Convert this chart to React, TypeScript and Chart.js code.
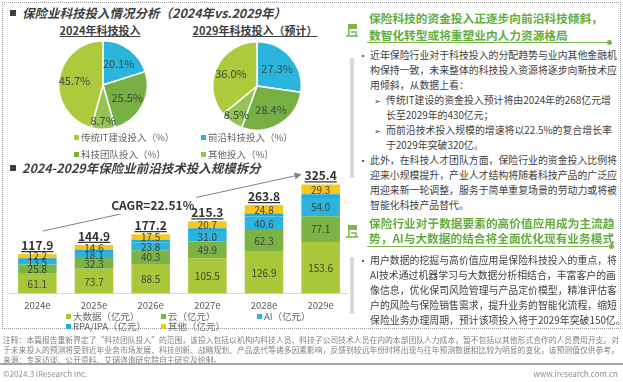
import React, { useEffect, useRef } from "react";
import { Chart, registerables } from "chart.js";
Chart.register(...registerables);

const FONT = '"Noto Sans CJK SC", "Noto Sans", sans-serif';

// ---- Pie data ----
const pieCategories = ["前沿科技投入", "科技团队投入", "其他投入", "传统IT建设投入"];
const pie2024 = [20.1, 25.5, 8.7, 45.7];
const pie2029 = [27.3, 28.4, 8.5, 36.0];
const pieColors = ["#2bb5dc", "#76b043", "#94c453", "#adc93c"];
const pieLabelFrac = [0.6, 0.62, 0.8, 0.65];

// ---- Bar data ----
const years = ["2024e", "2025e", "2026e", "2027e", "2028e", "2029e"];
const bigData = [61.1, 73.7, 88.5, 105.5, 126.9, 153.6];
const cloud = [25.8, 32.3, 40.3, 49.9, 62.3, 77.1];
const ai = [13.5, 18.1, 23.8, 31.0, 40.6, 54.0];
const rpa = [5.3, 6.2, 7.1, 8.2, 9.2, 11.4];
const other = [12.2, 14.6, 17.5, 20.7, 24.8, 29.3];
const totals = [117.9, 144.9, 177.2, 215.3, 263.8, 325.4];
const barNames = ["大数据（亿元）", "云（亿元）", "AI（亿元）", "RPA/IPA（亿元）", "其他（亿元）"];
const barColors = ["#a8c83a", "#7cb346", "#2bb5dc", "#22abdf", "#f4c81c"];
const cagrText = "CAGR=22.51%";

const pieLabelPlugin = {
  id: "pieLabels",
  afterDatasetsDraw(chart: any) {
    const ctx = chart.ctx;
    const meta = chart.getDatasetMeta(0);
    const data = chart.data.datasets[0].data;
    ctx.save();
    ctx.font = `11px ${FONT}`;
    ctx.fillStyle = "#3b4848";
    ctx.textAlign = "center";
    ctx.textBaseline = "middle";
    meta.data.forEach((arc: any, i: number) => {
      const p = arc.getProps(["x", "y", "startAngle", "endAngle", "outerRadius"], true);
      const a = (p.startAngle + p.endAngle) / 2;
      const r = p.outerRadius * pieLabelFrac[i];
      ctx.fillText(`${Number(data[i]).toFixed(1)}%`, p.x + Math.cos(a) * r, p.y + Math.sin(a) * r);
    });
    ctx.restore();
  },
};

const barLabelPlugin = {
  id: "barLabels",
  afterDatasetsDraw(chart: any) {
    const ctx = chart.ctx;
    ctx.save();
    ctx.textAlign = "center";
    ctx.textBaseline = "middle";
    ctx.font = `10px ${FONT}`;
    ctx.fillStyle = "#404040";
    chart.data.datasets.forEach((ds: any, di: number) => {
      if (di === 3) return;
      const meta = chart.getDatasetMeta(di);
      meta.data.forEach((bar: any, i: number) => {
        const p = bar.getProps(["x", "y", "base"], true);
        ctx.fillText(Number(ds.data[i]).toFixed(1), p.x, (p.y + p.base) / 2 + 0.5);
      });
    });
    const topMeta = chart.getDatasetMeta(chart.data.datasets.length - 1);
    // CAGR arrow
    const b0 = topMeta.data[0].getProps(["x", "y"], true);
    const b5 = topMeta.data[topMeta.data.length - 1].getProps(["x", "y"], true);
    const x1 = b0.x + 5.5, y1 = b0.y - 23;
    const x2 = b5.x - 19, y2 = b5.y - 10;
    ctx.strokeStyle = "#808080";
    ctx.fillStyle = "#808080";
    ctx.lineWidth = 1;
    ctx.beginPath();
    ctx.moveTo(x1, y1);
    ctx.lineTo(x2 - 5, y2 + (y1 - y2) * (5 / (x2 - x1)));
    ctx.stroke();
    const ang = Math.atan2(y2 - y1, x2 - x1);
    ctx.beginPath();
    ctx.moveTo(x2, y2);
    ctx.lineTo(x2 - 7 * Math.cos(ang) + 3.5 * Math.sin(ang), y2 - 7 * Math.sin(ang) - 3.5 * Math.cos(ang));
    ctx.lineTo(x2 - 7 * Math.cos(ang) - 3.5 * Math.sin(ang), y2 - 7 * Math.sin(ang) + 3.5 * Math.cos(ang));
    ctx.closePath();
    ctx.fill();
    const tx = chart.scales.x.getPixelForValue(2) + 2;
    const ty = y1 + (y2 - y1) * ((tx - x1) / (x2 - x1)) - 2;
    ctx.font = `bold 12px ${FONT}`;
    const tw = ctx.measureText(cagrText).width;
    ctx.fillStyle = "#ffffff";
    ctx.fillRect(tx - tw / 2 - 2, ty - 9, tw + 4, 18);
    ctx.fillStyle = "#333333";
    ctx.fillText(cagrText, tx, ty);
    // totals
    ctx.font = `bold 12px ${FONT}`;
    ctx.fillStyle = "#333333";
    ctx.strokeStyle = "#333333";
    ctx.lineWidth = 1.2;
    topMeta.data.forEach((bar: any, i: number) => {
      const p = bar.getProps(["x", "y"], true);
      const t = totals[i].toFixed(1);
      ctx.fillText(t, p.x, p.y - 9);
      const w = ctx.measureText(t).width;
      ctx.beginPath();
      ctx.moveTo(p.x - w / 2, p.y - 2.5);
      ctx.lineTo(p.x + w / 2, p.y - 2.5);
      ctx.stroke();
    });
    ctx.restore();
  },
};

function PieChart({ values, left, top, size }: { values: number[]; left: number; top: number; size: number }) {
  const ref = useRef<HTMLCanvasElement>(null);
  useEffect(() => {
    const chart = new Chart(ref.current!, {
      type: "pie",
      data: {
        labels: pieCategories,
        datasets: [{ data: values, backgroundColor: pieColors, borderColor: "#ffffff", borderWidth: 1.5 }],
      },
      options: {
        responsive: false,
        animation: false,
        events: [],
        layout: { padding: 0 },
        plugins: { legend: { display: false }, tooltip: { enabled: false } },
      },
      plugins: [pieLabelPlugin],
    } as any);
    return () => chart.destroy();
  }, []);
  return (
    <canvas ref={ref} width={size} height={size} style={{ position: "absolute", left, top, width: size, height: size }} />
  );
}

function BarChart() {
  const ref = useRef<HTMLCanvasElement>(null);
  useEffect(() => {
    const series = [bigData, cloud, ai, rpa, other];
    const chart = new Chart(ref.current!, {
      type: "bar",
      data: {
        labels: years,
        datasets: series.map((d, i) => ({
          label: barNames[i],
          data: d,
          backgroundColor: barColors[i],
          borderWidth: 0,
          barPercentage: 0.68,
          categoryPercentage: 1.0,
        })),
      },
      options: {
        responsive: false,
        animation: false,
        events: [],
        layout: { padding: 0 },
        plugins: { legend: { display: false }, tooltip: { enabled: false } },
        scales: {
          x: {
            stacked: true,
            grid: { display: false, drawTicks: false },
            border: { display: true, color: "#d9d9d9" },
            ticks: { color: "#595959", font: { size: 9.5, family: FONT }, padding: 6 },
          },
          y: { stacked: true, display: false, min: 0, max: 410 },
        },
      },
      plugins: [barLabelPlugin],
    } as any);
    return () => chart.destroy();
  }, []);
  return <canvas ref={ref} width={340} height={161} style={{ position: "absolute", left: 9, top: 156, width: 340, height: 161 }} />;
}

const txt = (extra: any) => ({ position: "absolute" as const, whiteSpace: "nowrap" as const, ...extra });

const block1: { t: string; bullet?: string; sub?: boolean }[] = [
  { t: "近年保险行业对于科技投入的分配趋势与业内其他金融机", bullet: "•" },
  { t: "构保持一致，未来整体的科技投入资源将逐步向新技术应" },
  { t: "用倾斜，从数据上看：" },
  { t: "传统IT建设的资金投入预计将由2024年的268亿元增", bullet: "➢", sub: true },
  { t: "长至2029年的430亿元；", sub: true },
  { t: "而前沿技术投入规模的增速将以22.5%的复合增长率", bullet: "➢", sub: true },
  { t: "于2029年突破320亿。", sub: true },
  { t: "此外，在科技人才团队方面，保险行业的资金投入比例将", bullet: "•" },
  { t: "迎来小规模提升，产业人才结构将随着科技产品的广泛应" },
  { t: "用迎来新一轮调整，服务于简单重复场景的劳动力或将被" },
  { t: "智能化科技产品替代。" },
];
const block2: { t: string; bullet?: string }[] = [
  { t: "用户数据的挖掘与高价值应用是保险科技投入的重点，将", bullet: "•" },
  { t: "AI技术通过机器学习与大数据分析相结合，丰富客户的画" },
  { t: "像信息，优化保司风险管理与产品定价模型，精准评估客" },
  { t: "户的风险与保险销售需求，提升业务的智能化流程，缩短" },
  { t: "保险业务办理周期，预计该项投入将于2029年突破150亿。" },
];

function Icon({ left, top }: { left: number; top: number }) {
  return (
    <svg style={{ position: "absolute", left, top }} width={14} height={15} viewBox="0 0 14 15">
      <rect x={3} y={1} width={9} height={5} fill="#7ab648" />
      <rect x={3} y={1} width={1.6} height={11} fill="#7ab648" />
      <path d="M1 13 L13 13" stroke="#7ab648" strokeWidth={1.6} />
      <path d="M6 9 L11 9 L11 13" stroke="#7ab648" strokeWidth={1.4} fill="none" />
    </svg>
  );
}

function TextBlock({ lines, startY }: { lines: { t: string; bullet?: string; sub?: boolean }[]; startY: number }) {
  return (
    <>
      {lines.map((l, i) => {
        const top = startY + i * 15 - 7.5;
        return (
          <React.Fragment key={i}>
            {l.bullet && (
              <div style={txt({ left: l.sub ? 374 : 358, top, fontSize: l.sub ? 8 : 10, lineHeight: "15px", color: "#404040" })}>
                {l.bullet}
              </div>
            )}
            <div style={txt({ left: l.sub ? 386 : 370, top, fontSize: 9.9, lineHeight: "15px", color: "#404040" })}>{l.t}</div>
          </React.Fragment>
        );
      })}
    </>
  );
}

function Marker({ left, top, color }: { left: number; top: number; color: string }) {
  return <div style={{ position: "absolute", left, top, width: 5, height: 5, background: color }} />;
}

export default function App() {
  const title = { fontWeight: "bold", fontStyle: "italic", fontSize: 12.5, color: "#3f3f3f", lineHeight: "16px" };
  const legendText = { fontSize: 9.5, color: "#666666", lineHeight: "12px" };
  const head = { fontSize: 11.7, fontWeight: "bold", color: "#62ad3e", lineHeight: "17px" };
  return (
    <div
      style={{
        position: "absolute",
        left: 0,
        top: 0,
        width: 623,
        height: 382,
        background: "#ffffff",
        overflow: "hidden",
        fontFamily: FONT,
      }}
    >
      {/* outer dotted frame */}
      <div style={{ position: "absolute", left: 2, top: 2, width: 617, height: 325, border: "1px dotted #9a9a9a" }} />

      {/* Left titles */}
      <div style={{ position: "absolute", left: 10, top: 10, width: 6, height: 6, background: "#404040" }} />
      <div style={txt({ left: 22, top: 5, ...title })}>保险业科技投入情况分析（2024年vs.2029年）</div>
      <div style={txt({ left: 100, top: 23, transform: "translateX(-50%)", fontSize: 11, fontWeight: "bold", color: "#404040", textDecoration: "underline", lineHeight: "14px" })}>
        2024年科技投入
      </div>
      <div style={txt({ left: 255, top: 23, transform: "translateX(-50%)", fontSize: 11, fontWeight: "bold", color: "#404040", textDecoration: "underline", lineHeight: "14px" })}>
        2029年科技投入（预计）
      </div>

      <PieChart values={pie2024} left={58} top={40} size={90} />
      <PieChart values={pie2029} left={212} top={41} size={90} />

      {/* pie legend */}
      <Marker left={74} top={135} color={pieColors[3]} />
      <div style={txt({ left: 81, top: 131, ...legendText })}>传统IT建设投入（%）</div>
      <Marker left={201} top={135} color={pieColors[0]} />
      <div style={txt({ left: 208, top: 131, ...legendText })}>前沿科技投入（%）</div>
      <Marker left={74} top={152} color={pieColors[1]} />
      <div style={txt({ left: 81, top: 148, ...legendText })}>科技团队投入（%）</div>
      <Marker left={201} top={152} color={pieColors[2]} />
      <div style={txt({ left: 208, top: 148, ...legendText })}>其他投入（%）</div>

      <div style={{ position: "absolute", left: 10, top: 165, width: 6, height: 6, background: "#404040" }} />
      <div style={txt({ left: 22, top: 160, ...title })}>2024-2029年保险业前沿技术投入规模拆分</div>

      <BarChart />

      {/* bar legend */}
      <Marker left={66} top={314} color={barColors[0]} />
      <div style={txt({ left: 73, top: 310, ...legendText })}>{barNames[0]}</div>
      <Marker left={161} top={314} color={barColors[1]} />
      <div style={txt({ left: 168, top: 310, ...legendText })}>{barNames[1]}</div>
      <Marker left={257} top={314} color={barColors[2]} />
      <div style={txt({ left: 264, top: 310, ...legendText })}>{barNames[2]}</div>
      <Marker left={66} top={324} color={barColors[3]} />
      <div style={txt({ left: 73, top: 320, ...legendText })}>{barNames[3]}</div>
      <Marker left={161} top={324} color={barColors[4]} />
      <div style={txt({ left: 168, top: 320, ...legendText })}>{barNames[4]}</div>

      {/* Right panel */}
      <Icon left={345} top={23} />
      <div style={txt({ left: 369, top: 9, ...head })}>保险科技的资金投入正逐步向前沿科技倾斜，</div>
      <div style={txt({ left: 369, top: 26, ...head })}>数智化转型或将重塑业内人力资源格局</div>
      <div style={{ position: "absolute", left: 367, top: 42, width: 243, height: 1.3, background: "#7ab648" }} />
      <div style={{ position: "absolute", left: 607, top: 40, width: 5, height: 5, borderRadius: 3, background: "#7ab648" }} />
      <div style={{ position: "absolute", left: 350, top: 58, width: 4, height: 120, background: "#d9d9d9" }} />
      <TextBlock lines={block1} startY={55} />

      <Icon left={345} top={224} />
      <div style={txt({ left: 369, top: 214, ...head })}>保险行业对于数据要素的高价值应用成为主流趋</div>
      <div style={txt({ left: 369, top: 229, ...head })}>势，AI与大数据的结合将全面优化现有业务模式</div>
      <div style={{ position: "absolute", left: 367, top: 246, width: 245, height: 1.3, background: "#7ab648" }} />
      <div style={{ position: "absolute", left: 609, top: 244, width: 5, height: 5, borderRadius: 3, background: "#7ab648" }} />
      <div style={{ position: "absolute", left: 350, top: 257, width: 4, height: 57, background: "#d9d9d9" }} />
      <TextBlock lines={block2} startY={260} />

      {/* Footer */}
      <div style={txt({ left: 3, top: 335, fontSize: 7.8, color: "#7f7f7f", lineHeight: "10px" })}>
        注释：本篇报告重新界定了“科技团队投入”的范围，该投入包括以机构内科技人员、科技子公司技术人员在内的本部团队人力成本，暂不包括以其他形式合作的人员费用开支。对
      </div>
      <div style={txt({ left: 3, top: 345, fontSize: 7.8, color: "#7f7f7f", lineHeight: "10px" })}>
        于未来投入的预测将受到近年业务市场发展、科技创新、战略规划、产品迭代等诸多因素影响，反馈到较远年份时将出现与往年预测数据相比较为明显的变化，该预测值仅供参考。
      </div>
      <div style={txt({ left: 3, top: 355, fontSize: 7.8, color: "#7f7f7f", lineHeight: "10px" })}>
        来源：专家访谈、公开资料、艾瑞咨询研究院自主研究及绘制。
      </div>
      <div style={{ position: "absolute", left: 0, top: 363, width: 623, height: 1.5, background: "#a6a6a6" }} />
      <div style={txt({ left: 3, top: 368, fontSize: 8, color: "#8c8c8c", lineHeight: "12px" })}>©2024.3 iResearch Inc.</div>
      <div style={txt({ right: 5, top: 368, fontSize: 8, color: "#8c8c8c", lineHeight: "12px" })}>www.iresearch.com.cn</div>
    </div>
  );
}
